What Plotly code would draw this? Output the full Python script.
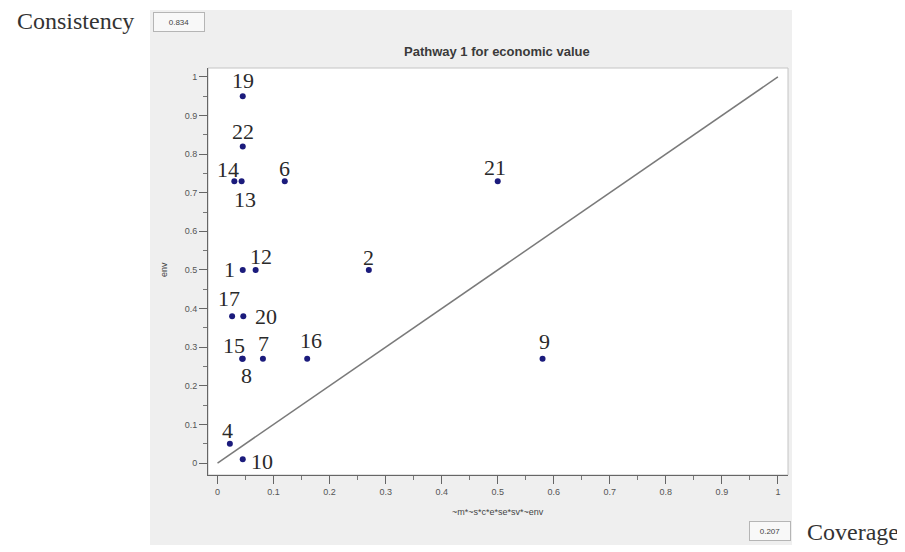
import plotly.graph_objects as go

# ---- data ----
case_ids = ["19", "22", "14", "13", "6", "21", "1", "12", "2", "17", "20",
            "15", "8", "7", "16", "9", "4", "10"]
coverage_x = [0.045, 0.045, 0.03, 0.043, 0.12, 0.50, 0.045, 0.068, 0.27, 0.026, 0.046,
              0.044, 0.045, 0.081, 0.16, 0.58, 0.022, 0.045]
consistency_y = [0.95, 0.82, 0.73, 0.73, 0.73, 0.73, 0.50, 0.50, 0.50, 0.38, 0.38,
                 0.27, 0.27, 0.27, 0.27, 0.27, 0.05, 0.01]
tick_vals = [0, 0.1, 0.2, 0.3, 0.4, 0.5, 0.6, 0.7, 0.8, 0.9, 1]
tick_text = ["0", "0.1", "0.2", "0.3", "0.4", "0.5", "0.6", "0.7", "0.8", "0.9", "1"]
diag = [0, 1]
title = "Pathway 1 for economic value"
x_title = "~m*~s*c*e*se*sv*~env"
y_title = "env"
consistency_value = "0.834"
coverage_value = "0.207"

# label offsets (px) for each case label, style only
label_dx = [0, 0, -6, 3, 0, -3, -13, 5, 0, -3, 23, -8, 4, 1, 4, 2, -2, 19]
label_dy = [16, 15, 12, -18, 13, 14, 0, 13, 12, 18, 0, 13, -17, 15, 18, 17, 13, -2]

OFF = 8  # page body margin
W, H = 905 - OFF, 552 - OFF
# plot area in window pixels: x 208..788, y 68..475
L = 208 - OFF
T = 68 - OFF
R = W - (788 - OFF)
B = H - (475 - OFF)
pw, ph = W - L - R, H - T - B


def px_x(px):
    return (px - OFF - L) / pw


def px_y(py):
    return (H - B - (py - OFF)) / ph


fig = go.Figure()
fig.add_trace(go.Scatter(x=diag, y=diag, mode="lines",
                         line=dict(color="#7a7a7a", width=1.5), hoverinfo="skip"))
fig.add_trace(go.Scatter(x=coverage_x, y=consistency_y, mode="markers",
                         marker=dict(color="#1b1b7c", size=6), hoverinfo="skip"))

for cid, xv, yv, dx, dy in zip(case_ids, coverage_x, consistency_y, label_dx, label_dy):
    fig.add_annotation(x=xv, y=yv, text=cid, showarrow=False, xshift=dx, yshift=dy,
                       xanchor="center", yanchor="middle",
                       font=dict(family="Liberation Serif", size=22, color="#2a2a2a"))

# gray panel
fig.add_shape(type="rect", xref="paper", yref="paper",
              x0=px_x(150), x1=px_x(792), y0=px_y(545), y1=px_y(10),
              fillcolor="#efefef", line=dict(width=0), layer="below")
# white plot area with border
fig.add_shape(type="rect", xref="paper", yref="paper", x0=0, x1=1, y0=0, y1=1,
              fillcolor="white", line=dict(color="#c4c4c4", width=1), layer="below")

fig.add_annotation(xref="paper", yref="paper", x=px_x(497), y=px_y(51), text="<b>" + title + "</b>",
                   showarrow=False, xanchor="center", yanchor="middle",
                   font=dict(family="Liberation Sans", size=13, color="#3a3a3a"))
fig.add_annotation(xref="paper", yref="paper", x=px_x(498), y=px_y(512), text=x_title,
                   showarrow=False, xanchor="center", yanchor="middle",
                   font=dict(family="Liberation Sans", size=9, color="#444"))
fig.add_annotation(xref="paper", yref="paper", x=px_x(164), y=px_y(270), text=y_title, textangle=-90,
                   showarrow=False, xanchor="center", yanchor="middle",
                   font=dict(family="Liberation Sans", size=9, color="#444"))

fig.add_annotation(xref="paper", yref="paper", x=px_x(75), y=px_y(21), text="Consistency",
                   showarrow=False, xanchor="center", yanchor="middle",
                   font=dict(family="Liberation Serif", size=24, color="#333"))
fig.add_annotation(xref="paper", yref="paper", x=px_x(179), y=px_y(22), text=consistency_value,
                   showarrow=False, xanchor="center", yanchor="middle",
                   font=dict(family="Liberation Sans", size=8, color="#444"),
                   bgcolor="#f8f8f8", bordercolor="#b5b5b5", borderwidth=1, borderpad=2,
                   width=46, height=14)
fig.add_annotation(xref="paper", yref="paper", x=px_x(770), y=px_y(531), text=coverage_value,
                   showarrow=False, xanchor="center", yanchor="middle",
                   font=dict(family="Liberation Sans", size=8, color="#444"),
                   bgcolor="#f8f8f8", bordercolor="#b5b5b5", borderwidth=1, borderpad=2,
                   width=36, height=14)
fig.add_annotation(xref="paper", yref="paper", x=px_x(853), y=px_y(532), text="Coverage",
                   showarrow=False, xanchor="center", yanchor="middle",
                   font=dict(family="Liberation Serif", size=24, color="#333"))

axis_common = dict(showgrid=False, zeroline=False, showline=True, linecolor="#666", linewidth=1,
                   ticks="outside", ticklen=8, tickcolor="#666", tickwidth=1,
                   tickvals=tick_vals, ticktext=tick_text,
                   tickfont=dict(family="Liberation Sans", size=9, color="#555"),
                   minor=dict(ticks="outside", ticklen=4, tickcolor="#777", dtick=0.05, showgrid=False),
                   fixedrange=True)
fig.update_xaxes(range=[-0.017, 1.018], **axis_common)
fig.update_yaxes(range=[-0.031, 1.023], **axis_common)

fig.update_layout(width=W, height=H, margin=dict(l=L, r=R, t=T, b=B, pad=0),
                  paper_bgcolor="white", plot_bgcolor="rgba(0,0,0,0)", showlegend=False)

fig.write_html("out.html")
